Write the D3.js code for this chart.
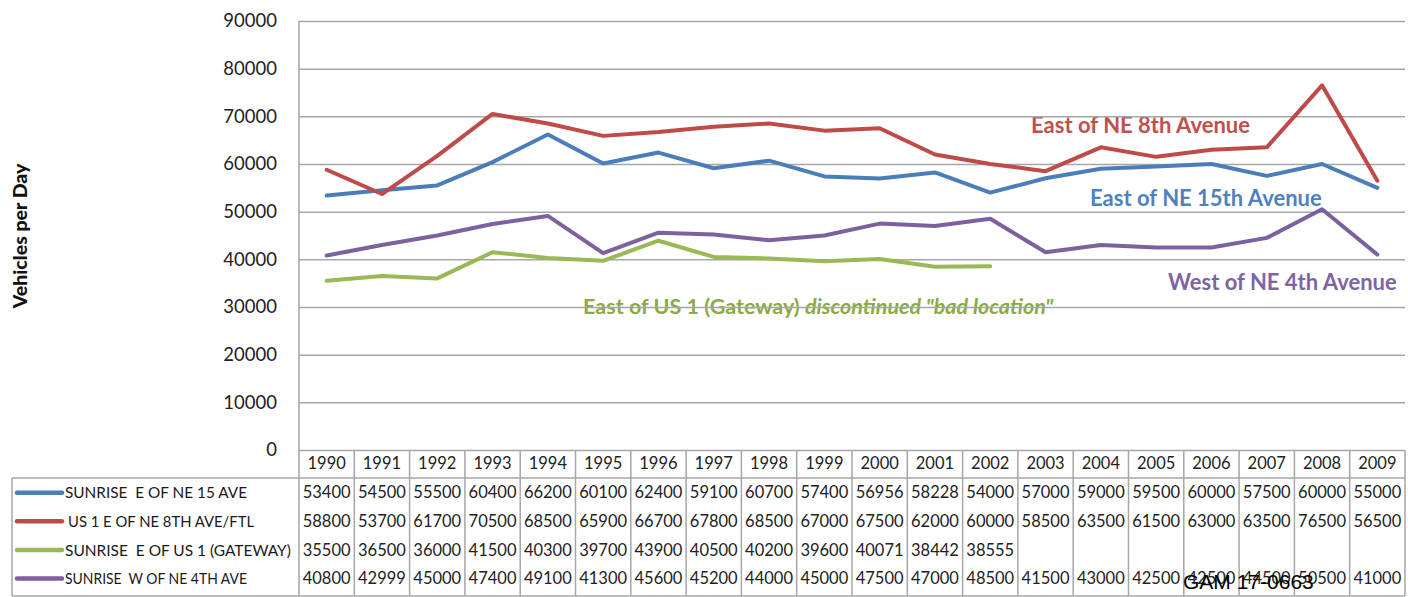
<!DOCTYPE html>
<html>
<head>
<meta charset="utf-8">
<script src="https://cdn.jsdelivr.net/npm/d3@7"></script>
<style>
  html, body { margin: 0; padding: 0; background: #fff; }
  svg { display: block; font-family: Lato, "Open Sans", sans-serif; }
</style>
</head>
<body>
<svg id="chart" width="1408" height="597"></svg>
<script>
// Annual average daily traffic counts, 1990–2009
const years = ["1990","1991","1992","1993","1994","1995","1996","1997","1998","1999",
               "2000","2001","2002","2003","2004","2005","2006","2007","2008","2009"];

const seriesNames = [
  "SUNRISE  E OF NE 15 AVE",
  "US 1 E OF NE 8TH AVE/FTL",
  "SUNRISE  E OF US 1 (GATEWAY)",
  "SUNRISE  W OF NE 4TH AVE"
];

const sunriseNe15 = [53400,54500,55500,60400,66200,60100,62400,59100,60700,57400,
                     56956,58228,54000,57000,59000,59500,60000,57500,60000,55000];
const us1Ne8 = [58800,53700,61700,70500,68500,65900,66700,67800,68500,67000,
                67500,62000,60000,58500,63500,61500,63000,63500,76500,56500];
const sunriseGateway = [35500,36500,36000,41500,40300,39700,43900,40500,40200,39600,
                        40071,38442,38555,null,null,null,null,null,null,null];
const sunriseNe4 = [40800,42999,45000,47400,49100,41300,45600,45200,44000,45000,
                    47500,47000,48500,41500,43000,42500,42500,44500,50500,41000];

const yTicks = [0,10000,20000,30000,40000,50000,60000,70000,80000,90000];

const seriesColors = ["#4A7EBB", "#BE4B48", "#98B954", "#7D60A0"];

const allSeries = [sunriseNe15, us1Ne8, sunriseGateway, sunriseNe4];

const svg = d3.select("#chart");

// Plot frame
const plotLeft = 299, plotRight = 1405, plotTop = 21, plotBottom = 450;
const tableTop = 478, tableBottom = 596, tableLeft = 12;

const x = d3.scaleBand().domain(years).range([plotLeft, plotRight]).padding(0);
const y = d3.scaleLinear().domain([0, 90000]).range([plotBottom, plotTop]);
const cx = yr => x(yr) + x.bandwidth() / 2;

// Series annotations (drawn beneath the gridlines)
const annotations = svg.append("g").attr("font-weight", 700).style("white-space", "pre");
const gw = annotations.append("text")
  .attr("x", 583).attr("y", 314)
  .attr("font-size", 21.5).attr("fill", "#8AAA43");
gw.append("tspan").text("East of US 1 (Gateway)  ");
gw.append("tspan").attr("font-style", "italic").text("discontinued \"bad location\"");

annotations.append("text").attr("x", 1031).attr("y", 133)
  .attr("font-size", 22).attr("fill", "#C0504D").text("East of NE 8th Avenue");
annotations.append("text").attr("x", 1090).attr("y", 206)
  .attr("font-size", 22).attr("fill", "#4F81BD").text("East of NE 15th Avenue");
annotations.append("text").attr("x", 1168).attr("y", 290)
  .attr("font-size", 22).attr("fill", "#8064A2").text("West of NE 4th Avenue");

// Horizontal gridlines and y tick labels
const yAxis = d3.axisLeft(y).tickValues(yTicks)
  .tickSize(-(plotRight - plotLeft)).tickPadding(22).tickFormat(d3.format("d"));
const yg = svg.append("g").attr("transform", `translate(${plotLeft},0)`).call(yAxis);
yg.select(".domain").remove();
yg.selectAll(".tick line").attr("stroke", "#a6a6a6").attr("stroke-width", 1.5);
yg.selectAll(".tick text").attr("font-size", 18.5).attr("fill", "#222")
  .attr("font-family", "Lato, sans-serif");

// Y axis title
svg.append("text")
  .attr("transform", "translate(27,236) rotate(-90)")
  .attr("text-anchor", "middle")
  .attr("font-weight", 900).attr("font-size", 19.5).attr("fill", "#111")
  .text("Vehicles per Day");

// Data table grid
const grid = svg.append("g").attr("stroke", "#a6a6a6").attr("stroke-width", 1.5).attr("fill", "none");
grid.append("line").attr("x1", plotLeft).attr("x2", plotLeft).attr("y1", plotTop).attr("y2", tableBottom);
grid.append("line").attr("x1", tableLeft).attr("x2", plotRight).attr("y1", tableTop).attr("y2", tableTop);
grid.append("line").attr("x1", tableLeft).attr("x2", plotRight).attr("y1", tableBottom).attr("y2", tableBottom);
grid.append("line").attr("x1", tableLeft).attr("x2", tableLeft).attr("y1", tableTop).attr("y2", tableBottom);
grid.selectAll("line.col").data(years).join("line").attr("class", "col")
  .attr("x1", d => x(d) + x.bandwidth()).attr("x2", d => x(d) + x.bandwidth())
  .attr("y1", plotBottom).attr("y2", tableBottom);

// Year header
svg.append("g").selectAll("text").data(years).join("text")
  .attr("x", d => cx(d)).attr("y", 463).attr("dy", "0.35em")
  .attr("text-anchor", "middle").attr("font-size", 16.5).attr("fill", "#222")
  .text(d => d);

// Value rows and legend keys
const rowY = i => 492.7 + i * 28.6;
const rows = svg.append("g");
allSeries.forEach((vals, i) => {
  rows.append("line")
    .attr("x1", 17).attr("x2", 62).attr("y1", rowY(i)).attr("y2", rowY(i))
    .attr("stroke", seriesColors[i]).attr("stroke-width", 4.5).attr("stroke-linecap", "round");
  rows.append("text")
    .attr("x", i === 1 ? 68 : 65).attr("y", rowY(i)).attr("dy", "0.35em")
    .attr("font-size", 16).attr("fill", "#1a1a1a")
    .style("white-space", "pre")
    .attr("textLength", i === 2 ? 226 : (i === 1 ? 186 : 182)).attr("lengthAdjust", "spacingAndGlyphs")
    .text(seriesNames[i]);
  rows.selectAll(null).data(years.map((yr, j) => ({ yr, v: vals[j] })).filter(d => d.v !== null))
    .join("text")
    .attr("x", d => cx(d.yr)).attr("y", rowY(i)).attr("dy", "0.35em")
    .attr("text-anchor", "middle").attr("font-size", 16.5).attr("fill", "#222")
    .text(d => d.v);
});

// Series lines
const line = d3.line()
  .defined(d => d.v !== null)
  .x(d => cx(d.yr)).y(d => y(d.v));
const lines = svg.append("g").attr("fill", "none")
  .attr("stroke-width", 4).attr("stroke-linejoin", "round").attr("stroke-linecap", "round");
allSeries.forEach((vals, i) => {
  lines.append("path")
    .datum(years.map((yr, j) => ({ yr, v: vals[j] })))
    .attr("stroke", seriesColors[i])
    .attr("d", line);
});

// Document stamp
svg.append("text").attr("x", 1183).attr("y", 589)
  .attr("font-family", "Liberation Sans, Arial, sans-serif")
  .attr("font-size", 21).attr("fill", "#000").text("GAM 17-0663");
</script>
</body>
</html>
